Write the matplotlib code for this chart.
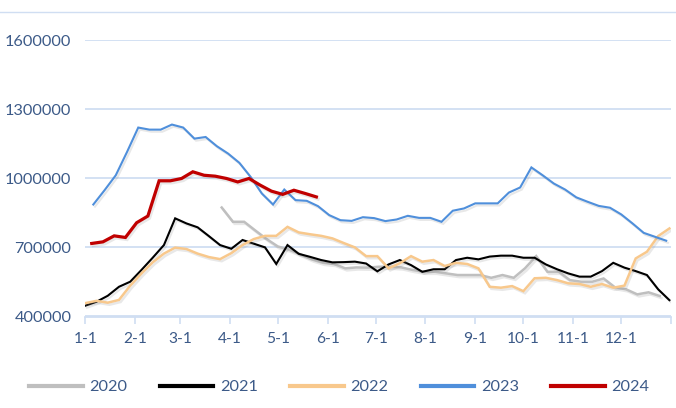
import matplotlib
matplotlib.use("Agg")
import matplotlib.pyplot as plt
import matplotlib.patheffects as pe
from matplotlib.lines import Line2D
import pandas as pd

plt.rcParams['font.family'] = ['Lato', 'DejaVu Sans']

# ---- data (weekly readings) ----
years = ["2020", "2021", "2022", "2023", "2024"]
start_dates = ["2020-03-26", "2021-01-01", "2022-01-01", "2023-01-06", "2024-01-05"]

v2020 = [873000, 811000, 811000, 773000, 736000, 704000, 690000, 670000, 648000, 633000,
         628000, 609000, 613000, 612000, 616000, 616000, 613000, 602000, 594000, 594000,
         587000, 580000, 580000, 580000, 568000, 580000, 568000, 609000, 662000, 594000,
         594000, 558000, 551000, 551000, 565000, 527000, 518000, 496000, 505000, 489000]

v2021 = [447000, 464000, 490000, 529000, 551000, 602000, 655000, 710000, 826000, 804000,
         787000, 749000, 710000, 694000, 732000, 716000, 700000, 628000, 710000, 672000,
         659000, 645000, 635000, 636000, 638000, 630000, 596000, 626000, 645000, 623000,
         594000, 605000, 605000, 645000, 655000, 648000, 660000, 664000, 664000, 655000,
         655000, 626000, 605000, 587000, 573000, 573000, 597000, 633000, 612000, 597000,
         580000, 518000, 471000]

v2022 = [458000, 468000, 460000, 472000, 534000, 587000, 635000, 673000, 699000, 693000,
         673000, 658000, 649000, 675000, 710000, 736000, 750000, 750000, 789000, 765000,
         757000, 750000, 739000, 719000, 700000, 662000, 662000, 609000, 631000, 662000,
         638000, 645000, 619000, 633000, 628000, 609000, 529000, 525000, 532000, 510000,
         566000, 568000, 558000, 544000, 541000, 529000, 541000, 525000, 534000, 652000,
         681000, 749000, 782000]

v2023 = [886000, 948000, 1013000, 1114000, 1220000, 1211000, 1211000, 1233000, 1220000, 1172000,
         1179000, 1139000, 1107000, 1067000, 1006000, 934000, 886000, 951000, 905000, 902000,
         879000, 840000, 818000, 815000, 831000, 827000, 814000, 821000, 837000, 828000,
         828000, 811000, 859000, 869000, 891000, 891000, 891000, 938000, 960000, 1047000,
         1013000, 977000, 951000, 917000, 898000, 880000, 872000, 843000, 804000, 763000,
         746000, 729000]

v2024 = [717000, 724000, 750000, 743000, 807000, 836000, 989000, 989000, 999000, 1028000,
         1013000, 1009000, 999000, 984000, 999000, 970000, 944000, 930000, 948000, 934000,
         919000]

series_values = [v2020, v2021, v2022, v2023, v2024]
colors = ["#BFBFBF", "#000000", "#F8C88C", "#4F8FDB", "#C00000"]
widths = [1.8, 1.5, 1.8, 1.5, 2.3]

month_days = [0, 31, 59, 90, 120, 151, 181, 212, 243, 273, 304, 334]
month_labels = ["1-1", "2-1", "3-1", "4-1", "5-1", "6-1", "7-1", "8-1", "9-1", "10-1", "11-1", "12-1"]
y_ticks = [400000, 700000, 1000000, 1300000, 1600000]

# ---- figure ----
W, H = 676, 408
fig = plt.figure(figsize=(W / 100, H / 100), dpi=100)
left, right = 85.3 / W, 671 / W
bottom, top = (H - 316.5) / H, (H - 40) / H
ax = fig.add_axes([left, bottom, right - left, top - bottom])

grid_c = "#D0DEF2"
label_c = "#3C5A88"

for yr, start, vals, c, lw in zip(years, start_dates, series_values, colors, widths):
    dates = pd.date_range(start, periods=len(vals), freq="7D")
    x = [(d - pd.Timestamp(dates[0].year, 1, 1)).days for d in dates]
    ax.plot(x, vals, color=c, lw=lw, label=yr, solid_joinstyle="miter",
            path_effects=[pe.SimpleLineShadow(offset=(1.2, -1.5), shadow_color="#808080", alpha=0.18),
                          pe.Normal()])

ax.set_xlim(0, 365)
ax.set_ylim(400000, 1600000)
ax.set_yticks(y_ticks)
ax.set_yticklabels([str(v) for v in y_ticks])
ax.set_xticks(month_days + [365])
ax.set_xticklabels(month_labels + [""])

ax.grid(axis="y", color=grid_c, lw=1.3)
ax.set_axisbelow(True)
for s in ["top", "right", "left"]:
    ax.spines[s].set_visible(False)
ax.spines["bottom"].set_color(grid_c)
ax.spines["bottom"].set_linewidth(1.3)

ax.tick_params(axis="y", length=0, pad=10, labelsize=11.7, labelcolor=label_c)
ax.tick_params(axis="x", length=5, width=1.2, color=grid_c, direction="out", pad=6,
               labelsize=11.2, labelcolor=label_c)

# top border line of chart area
fig.add_artist(Line2D([0, 1], [(H - 12) / H] * 2, transform=fig.transFigure, color=grid_c, lw=1))

handles = [Line2D([0], [0], color=c, lw=3) for c in colors]
leg = fig.legend(handles, years, loc="center", bbox_to_anchor=(0.502, (H - 387) / H), ncol=5,
                 frameon=False, fontsize=11.7, handlelength=3.3, handletextpad=0.4,
                 columnspacing=2.0)
for t in leg.get_texts():
    t.set_color(label_c)

fig.savefig("out.png", dpi=100)
